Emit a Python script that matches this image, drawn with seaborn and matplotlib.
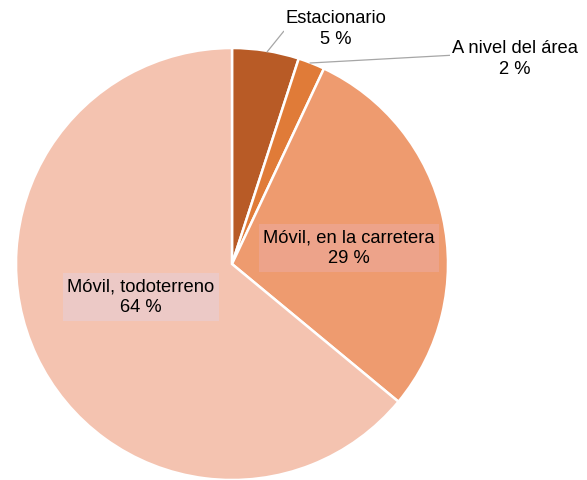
import matplotlib
matplotlib.use("Agg")
import matplotlib.pyplot as plt
import seaborn as sns

categories = ["Estacionario", "A nivel del área", "Móvil, en la carretera", "Móvil, todoterreno"]
values = [5, 2, 29, 64]
colors = ["#b85b26", "#e07b38", "#ee9b6f", "#f4c3b0"]

sns.set_style("white")
plt.rcParams['font.family'] = ['Liberation Sans', 'DejaVu Sans']
plt.rcParams['text.color'] = 'black'

fig = plt.figure(figsize=(5.87, 4.80), dpi=100)
cx, cy, r = 232, 264, 216
W, H = 587, 480
ax = fig.add_axes([(cx - r) / W, (H - cy - r) / H, 2 * r / W, 2 * r / H])
pal = sns.color_palette(colors)
ax.pie(values, colors=pal, startangle=90, counterclock=False,
       wedgeprops=dict(edgecolor="white", linewidth=1.8))
ax.set_xlim(-1, 1)
ax.set_ylim(-1, 1)
ax.set_aspect("equal")
ax.axis("off")

def d(px, py):
    return ((px - cx) / r, (cy - py) / r)

fs = 13.2
ls = 1.3
labels = [f"{c}\n{v} %" for c, v in zip(categories, values)]
# outside labels with leader lines
ax.annotate(labels[0], xy=d(267, 52), xytext=d(336, 29), ha="center", va="center",
            fontsize=fs, linespacing=ls, color="black", annotation_clip=False,
            arrowprops=dict(arrowstyle="-", color="#a6a6a6", lw=0.9,
                            shrinkA=0, shrinkB=0, relpos=(0.0, 0.5)),
            bbox=dict(boxstyle="square,pad=0.1", fc="white", ec="none"))
ax.annotate(labels[1], xy=d(310, 63), xytext=d(515, 59), ha="center", va="center",
            fontsize=fs, linespacing=ls, color="black", annotation_clip=False,
            arrowprops=dict(arrowstyle="-", color="#a6a6a6", lw=0.9,
                            shrinkA=0, shrinkB=0, relpos=(0.0, 0.6)),
            bbox=dict(boxstyle="square,pad=0.1", fc="white", ec="none"))
# inside labels with boxes
x, y = d(349, 248)
ax.text(x, y, labels[2], ha="center", va="center", fontsize=fs, linespacing=ls,
        color="black",
        bbox=dict(boxstyle="square,pad=0.25", fc="#eda38a", ec="none"))
x, y = d(141, 297)
ax.text(x, y, labels[3], ha="center", va="center", fontsize=fs, linespacing=ls,
        color="black",
        bbox=dict(boxstyle="square,pad=0.25", fc="#ecc9c6", ec="none"))

fig.savefig("out.png", dpi=100)
